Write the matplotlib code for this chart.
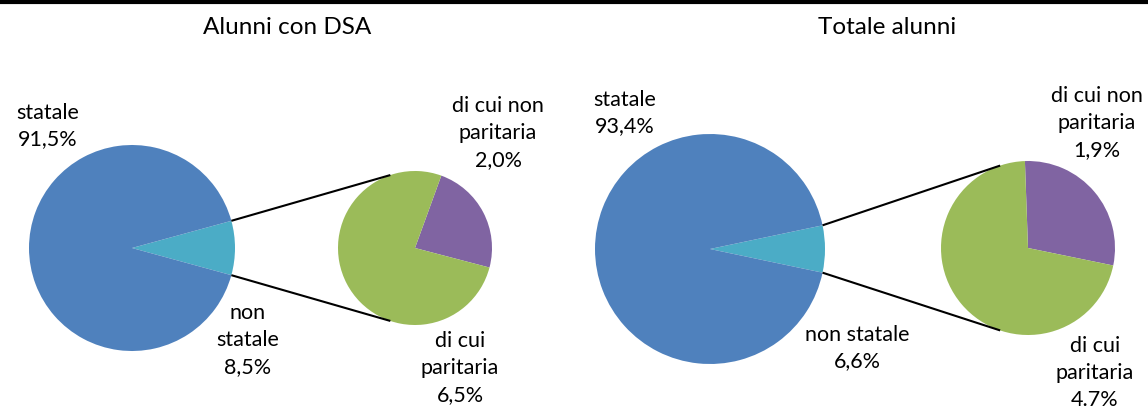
import matplotlib.pyplot as plt
import numpy as np

plt.rcParams['font.family'] = ['Lato', 'DejaVu Sans']

titles = ["Alunni con DSA", "Totale alunni"]
statale = [91.5, 93.4]
non_statale = [8.5, 6.6]
paritaria = [6.5, 4.7]
non_paritaria = [2.0, 1.9]

main_labels = [["statale\n91,5%", "non\nstatale\n8,5%"],
               ["statale\n93,4%", "non statale\n6,6%"]]
sub_labels = [["di cui non\nparitaria\n2,0%", "di cui\nparitaria\n6,5%"],
              ["di cui non\nparitaria\n1,9%", "di cui\nparitaria\n4.7%"]]

W, H = 1148, 410
blue, teal, green, purple = "#4F81BD", "#4BACC6", "#9BBB59", "#8064A2"

# layout in pixel units (y measured upward)
big = [dict(c=(132, 161), r=103), dict(c=(710, 160), r=115)]
small = [dict(c=(415, 161), r=77), dict(c=(1028, 161), r=87)]
sub_start = [-14.7, -11.6]
title_pos = [(287, 382), (887, 382)]
main_lpos = [[(48, 284), (248, 70)], [(625, 297), (857, 62)]]
sub_lpos = [[(498, 277), (460, 42)], [(1097, 287), (1095, 37)]]

fig = plt.figure(figsize=(W / 100, H / 100), dpi=100)
ax = fig.add_axes([0, 0, 1, 1])

for i in range(2):
    half = non_statale[i] / 100 * 180
    ax.pie([non_statale[i], statale[i]], colors=[teal, blue], center=big[i]["c"],
           radius=big[i]["r"], startangle=-half, counterclock=True,
           wedgeprops=dict(linewidth=0))
    ax.pie([non_paritaria[i], paritaria[i]], colors=[purple, green], center=small[i]["c"],
           radius=small[i]["r"], startangle=sub_start[i], counterclock=True,
           wedgeprops=dict(linewidth=0))

    # connector lines
    bx, by = big[i]["c"]
    br = big[i]["r"]
    sx, sy = small[i]["c"]
    sr = small[i]["r"]
    dx = -0.32 * sr
    dy = np.sqrt(sr ** 2 - dx ** 2)
    for sgn in (1, -1):
        a = np.radians(sgn * half)
        ax.plot([bx + br * np.cos(a), sx + dx], [by + br * np.sin(a), sy + sgn * dy],
                color="black", lw=1.5, solid_capstyle="butt")

    ax.text(*title_pos[i], titles[i], ha="center", va="center", fontsize=17.5)
    for (x, y), lab in zip(main_lpos[i], main_labels[i]):
        ax.text(x, y, lab, ha="center", va="center", fontsize=15.5, linespacing=1.42)
    for (x, y), lab in zip(sub_lpos[i], sub_labels[i]):
        ax.text(x, y, lab, ha="center", va="center", fontsize=15.5, linespacing=1.42)

ax.plot([0, W], [407, 407], color="black", lw=3)

ax.set_xlim(0, W)
ax.set_ylim(0, H)
ax.set_aspect("equal")
ax.axis("off")

plt.savefig("out.png", dpi=100)
